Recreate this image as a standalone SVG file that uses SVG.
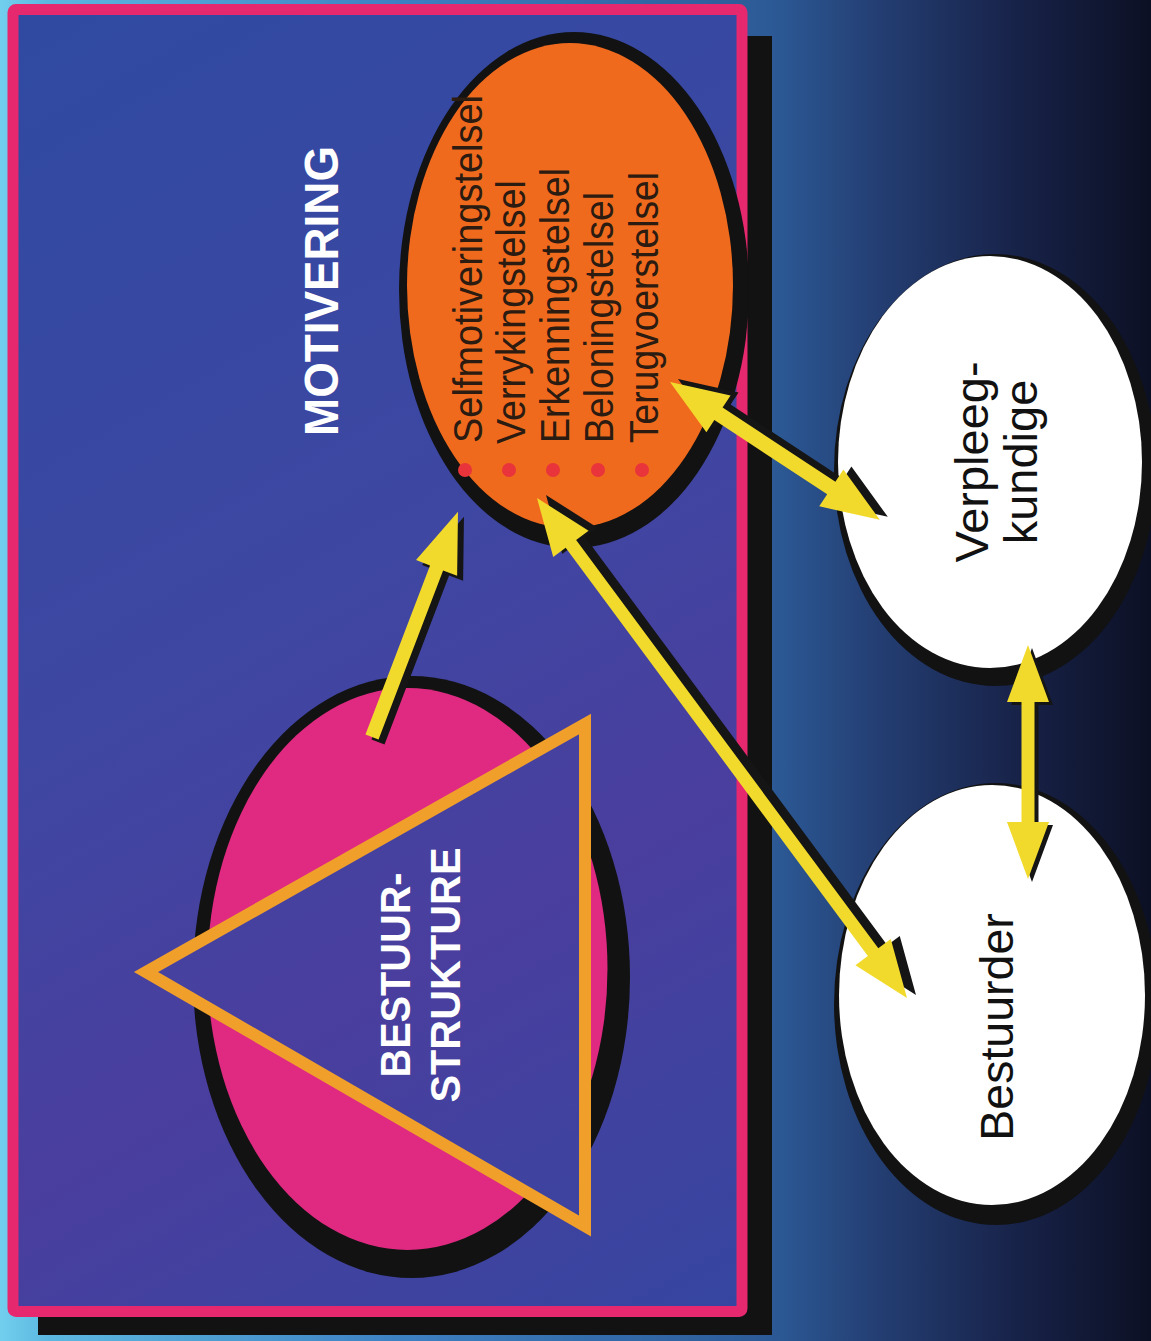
<svg xmlns="http://www.w3.org/2000/svg" width="1151" height="1341" viewBox="0 0 1151 1341">
  <defs>
    <linearGradient id="bg" gradientUnits="userSpaceOnUse" x1="0" y1="0" x2="1151" y2="0">
      <stop offset="0" stop-color="#72cfee"/>
      <stop offset="0.04" stop-color="#5cb8e0"/>
      <stop offset="0.35" stop-color="#3d80c2"/>
      <stop offset="0.67" stop-color="#2c5a96"/>
      <stop offset="0.76" stop-color="#243f74"/>
      <stop offset="0.88" stop-color="#18234a"/>
      <stop offset="1" stop-color="#0c1024"/>
    </linearGradient>
    <linearGradient id="panel" gradientUnits="userSpaceOnUse" x1="0" y1="0" x2="740" y2="1300">
      <stop offset="0" stop-color="#2f4aa2"/>
      <stop offset="0.45" stop-color="#3e47a2"/>
      <stop offset="0.7" stop-color="#4a3e9e"/>
      <stop offset="1" stop-color="#3646a0"/>
    </linearGradient>
    <style>
      .shadow { fill: #121212; }
      .arrow { fill: #f2da2c; }
      .arrowsh { fill: #151515; }
      .white { fill: #ffffff; }
      .label { font-family: "Liberation Sans", Arial, sans-serif; }
      .list { font-family: "Liberation Sans", Arial, sans-serif; font-size: 40px; fill: #2b1b10; }
      .dot { fill: #e8343a; }
    </style>
  </defs>

  <!-- background -->
  <rect x="0" y="0" width="1151" height="1341" fill="url(#bg)"/>

  <!-- main panel -->
  <g id="panel-group">
    <rect class="shadow" x="38" y="36" width="734" height="1299"/>
    <rect x="13" y="9.5" width="729" height="1302" rx="3" fill="url(#panel)" stroke="#e6286e" stroke-width="11"/>
  </g>

  <!-- Bestuurstrukture node -->
  <g id="bestuurstrukture">
    <ellipse class="shadow" cx="411.5" cy="977" rx="218.5" ry="301"/>
    <ellipse cx="407.5" cy="969" rx="200" ry="281" fill="#e02a82"/>
    <polygon points="146,972 585,724 585,1226" fill="url(#panel)" stroke="#f0a02a" stroke-width="12" stroke-linejoin="miter"/>
    <text class="label" transform="translate(410,975) rotate(-90)" text-anchor="middle" font-size="42" font-weight="bold" fill="#ffffff" textLength="205" lengthAdjust="spacingAndGlyphs">BESTUUR-</text>
    <text class="label" transform="translate(460,975) rotate(-90)" text-anchor="middle" font-size="42" font-weight="bold" fill="#ffffff" textLength="255" lengthAdjust="spacingAndGlyphs">STRUKTURE</text>
  </g>

  <!-- Motivering node -->
  <g id="motivering">
    <text class="label" transform="translate(338,291) rotate(-90)" text-anchor="middle" font-size="49" font-weight="bold" fill="#ffffff" textLength="290" lengthAdjust="spacingAndGlyphs">MOTIVERING</text>
    <ellipse class="shadow" cx="574" cy="290" rx="175" ry="258"/>
    <ellipse cx="570" cy="285.5" rx="163" ry="242.5" fill="#f06a1e"/>
    <circle class="dot" cx="465" cy="470" r="7"/>
    <circle class="dot" cx="509" cy="470" r="7"/>
    <circle class="dot" cx="553" cy="470" r="7"/>
    <circle class="dot" cx="598" cy="470" r="7"/>
    <circle class="dot" cx="642" cy="470" r="7"/>
    <text class="list" transform="translate(482,443) rotate(-90)" textLength="348" lengthAdjust="spacingAndGlyphs">Selfmotiveringstelsel</text>
    <text class="list" transform="translate(525,444) rotate(-90)" textLength="264" lengthAdjust="spacingAndGlyphs">Verrykingstelsel</text>
    <text class="list" transform="translate(569,443) rotate(-90)" textLength="275" lengthAdjust="spacingAndGlyphs">Erkenningstelsel</text>
    <text class="list" transform="translate(613,443) rotate(-90)" textLength="251" lengthAdjust="spacingAndGlyphs">Beloningstelsel</text>
    <text class="list" transform="translate(658,443) rotate(-90)" textLength="271" lengthAdjust="spacingAndGlyphs">Terugvoerstelsel</text>
  </g>

  <!-- Verpleegkundige node -->
  <g id="verpleegkundige">
    <ellipse class="shadow" cx="995" cy="470" rx="161" ry="216"/>
    <ellipse class="white" cx="990" cy="462" rx="152" ry="206"/>
    <text class="label" transform="translate(988,462) rotate(-90)" text-anchor="middle" font-size="47" fill="#111111">Verpleeg-</text>
    <text class="label" transform="translate(1037,462) rotate(-90)" text-anchor="middle" font-size="47" fill="#111111">kundige</text>
  </g>

  <!-- Bestuurder node -->
  <g id="bestuurder">
    <ellipse class="shadow" cx="996" cy="1004" rx="162" ry="221"/>
    <ellipse class="white" cx="992" cy="995" rx="153" ry="210"/>
    <text class="label" transform="translate(1013,1027) rotate(-90)" text-anchor="middle" font-size="46.5" fill="#111111">Bestuurder</text>
  </g>

  <!-- connectors -->
  <g id="connectors">
    <!-- shadows -->
    <polygon class="arrowsh" transform="translate(6,5) translate(372,737) rotate(-69.1)" points="0,-7 181,-7 181,-22 241,0 181,22 181,7 0,7"/>
    <polygon class="arrowsh" transform="translate(9,-3) translate(537,498) rotate(53.5)" points="0,0 57,-22 57,-6.5 565,-6.5 565,-22 622,0 565,22 565,6.5 57,6.5 57,22"/>
    <polygon class="arrowsh" transform="translate(8,-3) translate(670,382) rotate(33.3)" points="0,0 58,-22 58,-7.5 193,-7.5 193,-22 251,0 193,22 193,7.5 58,7.5 58,22"/>
    <polygon class="arrowsh" transform="translate(4,3) translate(1028,645) rotate(90)" points="0,0 57,-21 57,-6.5 177,-6.5 177,-21 234,0 177,21 177,6.5 57,6.5 57,21"/>
    <!-- arrows -->
    <polygon class="arrow" transform="translate(372,737) rotate(-69.1)" points="0,-7 181,-7 181,-22 241,0 181,22 181,7 0,7"/>
    <polygon class="arrow" transform="translate(537,498) rotate(53.5)" points="0,0 57,-22 57,-6.5 565,-6.5 565,-22 622,0 565,22 565,6.5 57,6.5 57,22"/>
    <polygon class="arrow" transform="translate(670,382) rotate(33.3)" points="0,0 58,-22 58,-7.5 193,-7.5 193,-22 251,0 193,22 193,7.5 58,7.5 58,22"/>
    <polygon class="arrow" transform="translate(1028,645) rotate(90)" points="0,0 57,-21 57,-6.5 177,-6.5 177,-21 234,0 177,21 177,6.5 57,6.5 57,21"/>
  </g>
</svg>
